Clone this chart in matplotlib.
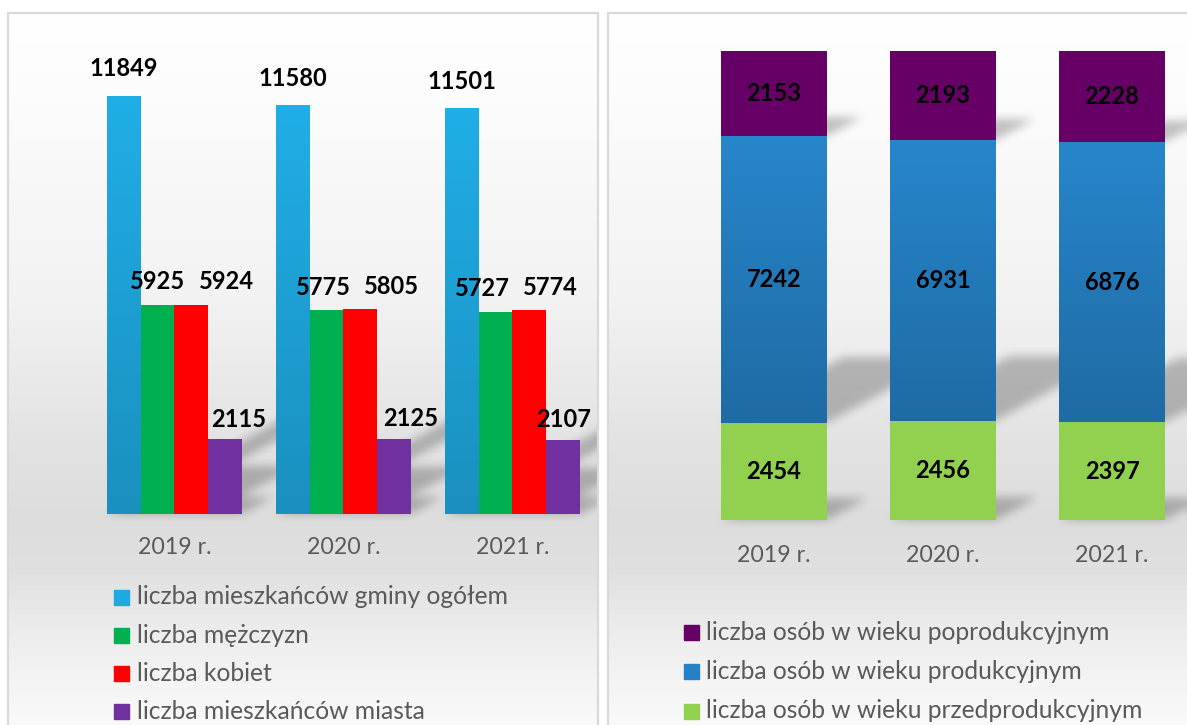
import numpy as np
import matplotlib

matplotlib.use("Agg")
import matplotlib.pyplot as plt
from matplotlib.patches import Rectangle
from matplotlib.path import Path as MplPath


plt.rcParams["font.family"] = ["Lato", "DejaVu Sans"]

# Category labels shared by both charts.
YEARS = ["2019 r.", "2020 r.", "2021 r."]

# Left chart: population counts.
LEFT_SERIES = [
    "liczba mieszkańców gminy ogółem",
    "liczba mężczyzn",
    "liczba kobiet",
    "liczba mieszkańców miasta",
]
TOTAL = [11849, 11580, 11501]
MEN = [5925, 5775, 5727]
WOMEN = [5924, 5805, 5774]
TOWN = [2115, 2125, 2107]

# Right chart: age groups (100% stacked).
RIGHT_SERIES = [
    "liczba osób w wieku przedprodukcyjnym",
    "liczba osób w wieku produkcyjnym",
    "liczba osób w wieku poprodukcyjnym",
]
PRE_WORK = [2454, 2456, 2397]
WORK_AGE = [7242, 6931, 6876]
POST_WORK = [2153, 2193, 2228]

W, H = 1187, 725
TEXT_GREY = "#595959"
FS_VALUE = 17
FS_TICK = 16.7
FS_LEGEND = 17.7

LEFT_COLORS = ["#1ea9e1", "#00b050", "#ff0000", "#7030a0"]
RIGHT_COLORS = ["#92d050", "#2581c4", "#660066"]

# value label nudges (pixels) for the left chart, per series and year
LABEL_DX = [[0, 0, 0], [0, -3, -13], [35, 31, 21], [13, 16, 0]]
LABEL_DY = [27, 23, 23, 20]

# horizontal pixel span of each framed panel (shadows are clipped to it)
LEFT_PANEL = (8, 597)
RIGHT_PANEL = (608, W)


def px_axes(fig, x0, y0, x1, y1, **kw):
    """Add axes using pixel coordinates measured from the top-left corner."""
    return fig.add_axes([x0 / W, 1 - y1 / H, (x1 - x0) / W, (y1 - y0) / H], **kw)


def add_gradient(ax, bar, top, bottom):
    x0 = bar.get_x()
    x1 = x0 + bar.get_width()
    y0 = bar.get_y()
    y1 = y0 + bar.get_height()
    grad = np.linspace(0, 1, 64)[:, None, None]
    c_top = np.array(matplotlib.colors.to_rgb(top))
    c_bot = np.array(matplotlib.colors.to_rgb(bottom))
    img = c_top * (1 - grad) + c_bot * grad
    im = ax.imshow(img, extent=(x0, x1, y0, y1), origin="upper",
                   aspect="auto", zorder=3.5, interpolation="bilinear")
    im.set_clip_path(bar)


def box_blur(a, r):
    for axis in (0, 1):
        pad = [(0, 0), (0, 0)]
        pad[axis] = (r + 1, r)
        c = np.cumsum(np.pad(a, pad, mode="edge"), axis=axis)
        if axis == 0:
            a = (c[2 * r + 1:, :] - c[:-2 * r - 1, :]) / (2 * r + 1)
        else:
            a = (c[:, 2 * r + 1:] - c[:, :-2 * r - 1]) / (2 * r + 1)
    return a


def shadow_mask(bars, panel):
    """Blurred perspective shadow of the given bars, clipped to one panel."""
    mask = np.zeros((H, W))
    for b in bars:
        ext = b.get_window_extent()
        x0, x1 = ext.x0, ext.x1
        ybot = H - ext.y0
        rise = 0.23 * ext.height
        shift = 1.85 * rise
        poly = MplPath([(x0, ybot), (x1, ybot), (x1 + shift, ybot - rise),
                        (x0 + shift, ybot - rise)])
        cx0, cx1 = int(max(x0 - 2, 0)), int(min(x1 + shift + 2, W))
        cy0, cy1 = int(max(ybot - rise - 2, 0)), int(min(ybot + 2, H))
        if cx1 <= cx0 or cy1 <= cy0:
            continue
        gx, gy = np.meshgrid(np.arange(cx0, cx1) + 0.5, np.arange(cy0, cy1) + 0.5)
        inside = poly.contains_points(np.column_stack([gx.ravel(), gy.ravel()]))
        mask[cy0:cy1, cx0:cx1] = np.maximum(mask[cy0:cy1, cx0:cx1],
                                            inside.reshape(gx.shape))
    for _ in range(3):
        mask = box_blur(mask, 4)
    mask[:, :panel[0]] = 0
    mask[:, panel[1]:] = 0
    return mask


fig = plt.figure(figsize=(W / 100, H / 100), dpi=100)

# background with the two framed panels
bg = fig.add_axes([0, 0, 1, 1], zorder=0)
bg.set_xlim(0, W)
bg.set_ylim(H, 0)
bg.axis("off")

rows = np.arange(H)
grey = np.interp(rows, [12, 100, 300, 450, 520, 570, 640, 725],
                 [255, 252, 242, 226, 221, 224, 238, 250]) / 255
bg_img = np.repeat(grey[:, None], W, axis=1)
bg_img[:12, :] = 1
bg_img[:, :7] = 1
bg_img[:, 598:607] = 1
bg.imshow(np.dstack([bg_img] * 3), extent=(0, W, H, 0), aspect="auto",
          interpolation="nearest", zorder=0)
bg.plot([7.5, 7.5, 597.5, 597.5], [H, 12.5, 12.5, H], color="#d9d9d9", lw=1.6, zorder=1)
bg.plot([607.5, 607.5, W], [H, 12.5, 12.5], color="#d9d9d9", lw=1.6, zorder=1)

x = np.arange(len(YEARS))

# ---- left chart ----
ax1 = px_axes(fig, 90, 30, 597, 514, zorder=2)
ax1.patch.set_visible(False)
width = 0.2
left_values = [TOTAL, MEN, WOMEN, TOWN]
left_bars = []
for i, (vals, col) in enumerate(zip(left_values, LEFT_COLORS)):
    bars = ax1.bar(x + (i - 1.5) * width, vals, width, color=col, zorder=3)
    left_bars.extend(bars)
    for j, (b, v) in enumerate(zip(bars, vals)):
        ax1.annotate(f"{v}", xy=(b.get_x() + b.get_width() / 2, v),
                     xytext=(LABEL_DX[i][j], LABEL_DY[i]), textcoords="offset pixels",
                     ha="center", va="center", fontsize=FS_VALUE, fontweight="bold",
                     color="black", zorder=5)
    if i == 0:
        for b in bars:
            add_gradient(ax1, b, "#20aee6", "#1a90bf")

ax1.set_xlim(-0.5, 2.5)
ax1.set_ylim(0, 13711)
ax1.axis("off")
for xi, lab in zip(x, YEARS):
    ax1.annotate(lab, xy=(xi, 0), xycoords=("data", "axes fraction"),
                 xytext=(0, -34), textcoords="offset pixels", ha="center",
                 va="center", fontsize=FS_TICK, color=TEXT_GREY)

# ---- right chart ----
ax2 = px_axes(fig, 689.5, 51, 1196.5, 520, zorder=2)
ax2.patch.set_visible(False)
right_values = np.array([PRE_WORK, WORK_AGE, POST_WORK], dtype=float)
shares = right_values / right_values.sum(axis=0)
bottom = np.zeros(len(YEARS))
right_bars = []
for i, (vals, share, col) in enumerate(zip(right_values, shares, RIGHT_COLORS)):
    bars = ax2.bar(x, share, 0.624, bottom=bottom, color=col, zorder=3)
    right_bars.extend(bars)
    if i == 1:
        for b in bars:
            add_gradient(ax2, b, "#2786ca", "#1f6ba4")
    for xi, v, s, b0 in zip(x, vals, share, bottom):
        ax2.text(xi, b0 + s / 2, f"{int(v)}", ha="center", va="center",
                 fontsize=FS_VALUE, fontweight="bold", color="black", zorder=5)
    bottom = bottom + share

ax2.set_xlim(-0.5, 2.5)
ax2.set_ylim(0, 1)
ax2.axis("off")
for xi, lab in zip(x, YEARS):
    ax2.annotate(lab, xy=(xi, 0), xycoords=("data", "axes fraction"),
                 xytext=(0, -35), textcoords="offset pixels", ha="center",
                 va="center", fontsize=FS_TICK, color=TEXT_GREY)

# ---- legends ----
for i, (name, col) in enumerate(zip(LEFT_SERIES, LEFT_COLORS)):
    yc = 597 + 38.3 * i
    bg.add_patch(Rectangle((114, yc - 7.5), 15, 15, color=col, zorder=3))
    bg.text(137, yc, name, ha="left", va="center", fontsize=FS_LEGEND,
            color=TEXT_GREY, zorder=3)

for i, (name, col) in enumerate(zip(RIGHT_SERIES[::-1], RIGHT_COLORS[::-1])):
    yc = 632 + 39.5 * i
    bg.add_patch(Rectangle((684, yc - 7.5), 15, 15, color=col, zorder=3))
    bg.text(706, yc, name, ha="left", va="center", fontsize=FS_LEGEND,
            color=TEXT_GREY, zorder=3)

# ---- soft perspective shadows behind the bars ----
fig.canvas.draw()
mask = np.maximum(shadow_mask(left_bars, LEFT_PANEL),
                  shadow_mask(right_bars, RIGHT_PANEL))
shadow = np.zeros((H, W, 4))
shadow[..., 3] = 0.24 * mask
bg.imshow(shadow, extent=(0, W, H, 0), aspect="auto", interpolation="bilinear", zorder=0.5)

fig.savefig("out.png", dpi=100)
